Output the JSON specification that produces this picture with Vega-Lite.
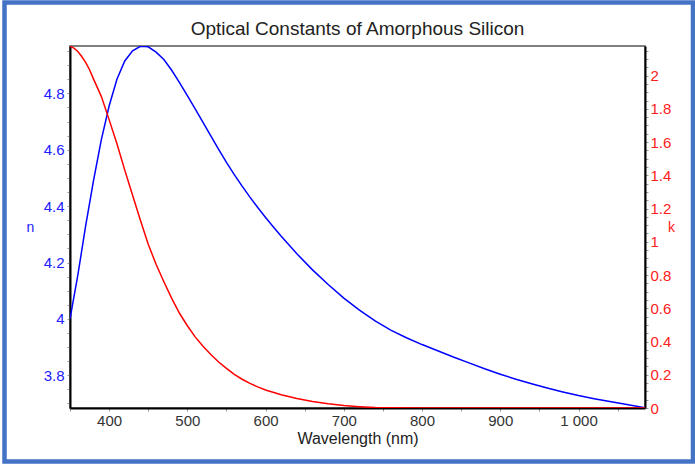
{
  "$schema": "https://vega.github.io/schema/vega-lite/v6.json",
  "autosize": {"type": "none"},
  "width": 575,
  "height": 362,
  "padding": {"left": 70, "top": 46, "right": 50, "bottom": 58},
  "background": "white",
  "config": {
    "font": "Liberation Sans",
    "view": {"stroke": "#555555", "strokeWidth": 1.5},
    "axis": {"grid": false, "labelFont": "Liberation Sans", "titleFont": "Liberation Sans", "titleFontWeight": "normal"}
  },
  "title": {
    "text": "Optical Constants of Amorphous Silicon",
    "font": "Liberation Sans",
    "fontSize": 19,
    "fontWeight": "normal",
    "color": "#222222",
    "anchor": "middle",
    "frame": "group",
    "baseline": "alphabetic",
    "offset": 0,
    "dy": 54
  },
  "datasets": {
    "nvals": [
      {"wavelength": 350, "n": 4.0},
      {"wavelength": 360, "n": 4.155},
      {"wavelength": 370, "n": 4.33},
      {"wavelength": 380, "n": 4.49},
      {"wavelength": 390, "n": 4.635},
      {"wavelength": 400, "n": 4.755},
      {"wavelength": 410, "n": 4.85},
      {"wavelength": 420, "n": 4.915},
      {"wavelength": 430, "n": 4.951},
      {"wavelength": 440, "n": 4.967},
      {"wavelength": 450, "n": 4.965},
      {"wavelength": 460, "n": 4.946},
      {"wavelength": 470, "n": 4.92},
      {"wavelength": 480, "n": 4.882},
      {"wavelength": 490, "n": 4.838},
      {"wavelength": 500, "n": 4.792},
      {"wavelength": 510, "n": 4.745},
      {"wavelength": 520, "n": 4.697},
      {"wavelength": 530, "n": 4.649},
      {"wavelength": 540, "n": 4.601},
      {"wavelength": 550, "n": 4.555},
      {"wavelength": 560, "n": 4.512},
      {"wavelength": 570, "n": 4.471},
      {"wavelength": 580, "n": 4.432},
      {"wavelength": 590, "n": 4.395},
      {"wavelength": 600, "n": 4.36},
      {"wavelength": 610, "n": 4.326},
      {"wavelength": 620, "n": 4.293},
      {"wavelength": 640, "n": 4.231},
      {"wavelength": 660, "n": 4.174},
      {"wavelength": 680, "n": 4.122},
      {"wavelength": 700, "n": 4.074},
      {"wavelength": 720, "n": 4.031},
      {"wavelength": 740, "n": 3.993},
      {"wavelength": 760, "n": 3.96},
      {"wavelength": 780, "n": 3.933},
      {"wavelength": 800, "n": 3.909},
      {"wavelength": 820, "n": 3.887},
      {"wavelength": 840, "n": 3.865},
      {"wavelength": 860, "n": 3.844},
      {"wavelength": 880, "n": 3.823},
      {"wavelength": 900, "n": 3.804},
      {"wavelength": 920, "n": 3.786},
      {"wavelength": 940, "n": 3.77},
      {"wavelength": 960, "n": 3.755},
      {"wavelength": 980, "n": 3.741},
      {"wavelength": 1000, "n": 3.728},
      {"wavelength": 1020, "n": 3.717},
      {"wavelength": 1040, "n": 3.707},
      {"wavelength": 1060, "n": 3.697},
      {"wavelength": 1085, "n": 3.685}
    ],
    "kvals": [
      {"wavelength": 350, "k": 2.177},
      {"wavelength": 355, "k": 2.165},
      {"wavelength": 360, "k": 2.145},
      {"wavelength": 365, "k": 2.115},
      {"wavelength": 370, "k": 2.08},
      {"wavelength": 375, "k": 2.035},
      {"wavelength": 380, "k": 1.98},
      {"wavelength": 390, "k": 1.875},
      {"wavelength": 400, "k": 1.735},
      {"wavelength": 410, "k": 1.59},
      {"wavelength": 420, "k": 1.431},
      {"wavelength": 430, "k": 1.28},
      {"wavelength": 440, "k": 1.13},
      {"wavelength": 450, "k": 0.985},
      {"wavelength": 460, "k": 0.865},
      {"wavelength": 470, "k": 0.76},
      {"wavelength": 480, "k": 0.66},
      {"wavelength": 490, "k": 0.57},
      {"wavelength": 500, "k": 0.495},
      {"wavelength": 510, "k": 0.428},
      {"wavelength": 520, "k": 0.372},
      {"wavelength": 530, "k": 0.322},
      {"wavelength": 540, "k": 0.277},
      {"wavelength": 550, "k": 0.238},
      {"wavelength": 560, "k": 0.203},
      {"wavelength": 570, "k": 0.173},
      {"wavelength": 580, "k": 0.148},
      {"wavelength": 590, "k": 0.127},
      {"wavelength": 600, "k": 0.108},
      {"wavelength": 620, "k": 0.08},
      {"wavelength": 640, "k": 0.057},
      {"wavelength": 660, "k": 0.039},
      {"wavelength": 680, "k": 0.025},
      {"wavelength": 700, "k": 0.015},
      {"wavelength": 720, "k": 0.008},
      {"wavelength": 740, "k": 0.003},
      {"wavelength": 760, "k": 0.001},
      {"wavelength": 800, "k": 0.0},
      {"wavelength": 900, "k": 0.0},
      {"wavelength": 1000, "k": 0.0},
      {"wavelength": 1085, "k": 0.0}
    ]
  },
  "layer": [
    {
      "data": {"name": "nvals"},
      "mark": {"type": "line", "color": "#0000ff", "strokeWidth": 1.5, "clip": true},
      "encoding": {
        "x": {
          "field": "wavelength", "type": "quantitative",
          "scale": {"domain": [350, 1085], "nice": false, "zero": false},
          "axis": {
            "title": "Wavelength (nm)",
            "values": [350,375,400,425,450,475,500,525,550,575,600,625,650,675,700,725,750,775,800,825,850,875,900,925,950,975,1000,1025,1050,1075],
            "labelExpr": "datum.value % 100 === 0 ? replace(format(datum.value, ','), ',', ' ') : ''",
            "labelColor": "#333333",
            "labelFontSize": 15,
            "labelPadding": 2,
            "labelFlush": false,
            "tickColor": "#999999",
            "tickSize": 3,
            "domainColor": "#000000",
            "domainWidth": 2,
            "titleColor": "#222222",
            "titleFontSize": 16,
            "titlePadding": 2
          }
        },
        "y": {
          "field": "n", "type": "quantitative",
          "scale": {"domain": [3.684, 4.968], "nice": false, "zero": false},
          "axis": {
            "orient": "left",
            "title": "n",
            "values": [3.7,3.75,3.8,3.85,3.9,3.95,4.0,4.05,4.1,4.15,4.2,4.25,4.3,4.35,4.4,4.45,4.5,4.55,4.6,4.65,4.7,4.75,4.8,4.85,4.9,4.95],
            "labelExpr": "abs(datum.value * 5 - round(datum.value * 5)) < 0.001 ? format(datum.value, '~g') : ''",
            "labelColor": "#2020ff",
            "labelFontSize": 15,
            "labelPadding": 3,
            "labelFlush": false,
            "tickColor": "#999999",
            "tickSize": 3,
            "domainColor": "#000000",
            "domainWidth": 2,
            "titleColor": "#2020ff",
            "titleFontSize": 14,
            "titleAngle": 0,
            "titleAlign": "center",
            "titleBaseline": "middle",
            "titleX": -40,
            "titleY": 181
          }
        }
      }
    },
    {
      "data": {"name": "kvals"},
      "mark": {"type": "line", "color": "#ff0000", "strokeWidth": 1.5, "clip": true},
      "encoding": {
        "x": {"field": "wavelength", "type": "quantitative"},
        "y": {
          "field": "k", "type": "quantitative",
          "scale": {"domain": [0, 2.178], "nice": false},
          "axis": {
            "orient": "right",
            "title": "k",
            "values": [0,0.05,0.1,0.15,0.2,0.25,0.3,0.35,0.4,0.45,0.5,0.55,0.6,0.65,0.7,0.75,0.8,0.85,0.9,0.95,1,1.05,1.1,1.15,1.2,1.25,1.3,1.35,1.4,1.45,1.5,1.55,1.6,1.65,1.7,1.75,1.8,1.85,1.9,1.95,2,2.05,2.1,2.15],
            "labelExpr": "abs(datum.value * 5 - round(datum.value * 5)) < 0.001 ? format(datum.value, '~g') : ''",
            "labelColor": "#ff2020",
            "labelFontSize": 15,
            "labelPadding": 2,
            "labelFlush": false,
            "tickColor": "#999999",
            "tickSize": 3,
            "domainColor": "#000000",
            "domainWidth": 2,
            "titleColor": "#ff2020",
            "titleFontSize": 14,
            "titleAngle": 0,
            "titleAlign": "center",
            "titleBaseline": "middle",
            "titleX": 26,
            "titleY": 181
          }
        }
      }
    },
    {
      "data": {"values": [{"frame": "border"}]},
      "mark": {"type": "rect", "fill": null, "stroke": "#4472c4", "strokeWidth": 4.5, "clip": false},
      "encoding": {
        "x": {"value": -65.5},
        "x2": {"value": 623},
        "y": {"value": -43.5},
        "y2": {"value": 415.5}
      }
    }
  ],
  "resolve": {"scale": {"y": "independent"}}
}
